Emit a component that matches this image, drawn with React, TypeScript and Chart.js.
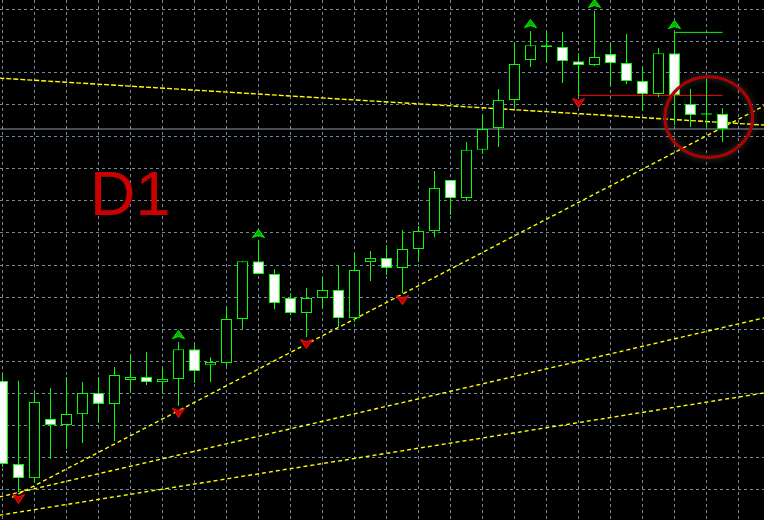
import { useEffect, useRef } from "react";
import { Chart, registerables } from "chart.js";

Chart.register(...registerables);

// Daily OHLC bars, oldest first
const opens = [
  133.8, 107.8, 103.4, 121.9, 120.0, 123.4, 130.0, 126.6, 134.1, 135.0,
  133.4, 134.4, 143.7, 138.7, 139.4, 153.1, 171.2, 167.2, 159.7, 155.0,
  159.7, 162.2, 153.4, 170.9, 172.2, 169.1, 175.0, 180.6, 196.6, 190.9,
  206.0, 212.8, 221.6, 234.1, 238.7, 238.1, 233.7, 232.5, 235.9, 233.1,
  227.5, 223.4, 236.2, 220.3, 217.2, 217.2,
];
const highs = [
  136.2, 133.8, 130.0, 131.6, 135.0, 133.4, 135.0, 138.1, 141.9, 142.8,
  138.1, 145.9, 145.0, 141.2, 156.9, 171.2, 177.5, 168.7, 161.2, 162.8,
  166.2, 170.0, 173.7, 174.4, 176.2, 180.9, 182.2, 199.4, 196.6, 208.4,
  216.9, 225.0, 239.7, 243.1, 242.8, 242.8, 236.2, 249.4, 239.4, 242.2,
  231.9, 237.8, 242.8, 225.0, 228.1, 219.1,
];
const lows = [
  106.9, 99.1, 101.9, 109.4, 112.5, 114.4, 120.6, 115.0, 130.0, 132.5,
  130.0, 126.0, 133.1, 133.4, 138.4, 150.0, 167.2, 156.2, 154.4, 147.5,
  156.6, 150.6, 152.2, 165.0, 166.9, 161.2, 170.9, 178.7, 185.6, 190.0,
  204.7, 206.9, 219.1, 231.9, 233.1, 226.9, 222.8, 232.2, 226.2, 226.6,
  218.1, 222.5, 213.7, 213.1, 213.1, 208.4,
];
const closes = [
  107.8, 103.4, 127.2, 120.0, 123.4, 130.0, 126.6, 135.6, 135.0, 133.4,
  134.4, 143.7, 136.9, 139.7, 153.1, 171.2, 167.2, 158.1, 155.0, 159.7,
  162.2, 153.4, 168.4, 172.2, 169.1, 175.0, 180.6, 194.1, 190.9, 206.0,
  212.5, 221.6, 232.8, 238.7, 238.1, 233.7, 232.5, 235.0, 233.1, 227.5,
  223.4, 236.2, 223.1, 216.9, 217.2, 212.5,
];

// Fractal markers (bar numbers)
const fractalUp = [11, 16, 33, 37, 42];
const fractalDown = [1, 11, 19, 25, 36];

// Trend lines: [bar, price, bar, price]
const topLine = [-0.2, 228.4, 47.7, 213.7];
const steepLine = [0.6, 97.4, 47.7, 220.0];
const midLine = [-0.2, 97.5, 47.7, 153.6];
const lowLine = [-0.2, 91.8, 47.7, 130.1];

// Horizontal levels: [fromBar, toBar, price]
const resistance = [42, 45, 242.7];
const support = [36, 45, 223.0];

// Highlight ring: centre [bar, price], radii [bars, price]
const ringCenter = [44.14, 216.2];
const ringRadius = [2.74, 12.6];

// Timeframe label anchor [bar, price]
const periodLabel = "D1";
const periodAnchor = [5.47, 185.6];

// Visible window
const X_MIN = -0.15625;
const X_MAX = 47.59375;
const Y_MIN = 90.3125;
const Y_MAX = 252.8125;

const GREEN = "#00ff00";
const GRID = "#778899";

function makeArrow(up: boolean, fill: string, edge: string, w: number, h: number, gap: number) {
  const c = document.createElement("canvas");
  const H = (gap + h) * 2;
  c.width = w;
  c.height = H;
  const g = c.getContext("2d")!;
  const mid = H / 2;
  g.beginPath();
  if (up) {
    const base = mid - gap;
    const tip = base - h;
    g.moveTo(w / 2, tip + 0.5);
    g.lineTo(w - 0.5, base - 0.5);
    g.lineTo(w / 2, base - h * 0.28);
    g.lineTo(0.5, base - 0.5);
  } else {
    const top = mid + gap;
    const tip = top + h;
    g.moveTo(w / 2, tip - 0.5);
    g.lineTo(w - 0.5, top + 0.5);
    g.lineTo(w / 2, top + h * 0.28);
    g.lineTo(0.5, top + 0.5);
  }
  g.closePath();
  g.fillStyle = fill;
  g.fill();
  g.strokeStyle = edge;
  g.lineWidth = 1;
  g.stroke();
  return c;
}

function segment(l: number[]) {
  return [
    { x: l[0], y: l[1] },
    { x: l[2], y: l[3] },
  ];
}

export default function App() {
  const ref = useRef<HTMLCanvasElement | null>(null);

  useEffect(() => {
    if (!ref.current) return;
    const idx = opens.map((_, i) => i);
    const bodyIdx = idx.filter((i) => opens[i] !== closes[i]);
    const dojiIdx = idx.filter((i) => opens[i] === closes[i]);
    const lastClose = closes[closes.length - 1];

    const upArrow = makeArrow(true, "#00b400", GREEN, 13, 9, 3);
    const downArrow = makeArrow(false, "#c00000", "#ff1010", 13, 10, 2);

    const overlay = {
      id: "overlay",
      beforeDraw(chart: any) {
        const { ctx, width, height } = chart;
        ctx.save();
        ctx.fillStyle = "#000000";
        ctx.fillRect(0, 0, width, height);
        ctx.restore();
      },
      beforeDatasetsDraw(chart: any) {
        const { ctx, scales } = chart;
        ctx.save();
        ctx.fillStyle = "#cc0000";
        ctx.font = '63px "Liberation Sans", Arial, sans-serif';
        ctx.textBaseline = "alphabetic";
        ctx.fillText(
          periodLabel,
          scales.x.getPixelForValue(periodAnchor[0]),
          scales.y.getPixelForValue(periodAnchor[1])
        );
        ctx.restore();
      },
      afterDatasetsDraw(chart: any) {
        const { ctx, scales } = chart;
        const cx = scales.x.getPixelForValue(ringCenter[0]);
        const cy = scales.y.getPixelForValue(ringCenter[1]);
        const rx = scales.x.getPixelForValue(ringCenter[0] + ringRadius[0]) - cx;
        const ry = cy - scales.y.getPixelForValue(ringCenter[1] + ringRadius[1]);
        ctx.save();
        ctx.shadowColor = "rgba(120,120,120,0.55)";
        ctx.shadowBlur = 7;
        ctx.strokeStyle = "#b00000";
        ctx.lineWidth = 3;
        ctx.beginPath();
        ctx.ellipse(cx, cy, rx, ry, 0, 0, Math.PI * 2);
        ctx.stroke();
        ctx.restore();
      },
    };

    const trend = (l: number[], dash: number[]) => ({
      type: "line" as const,
      data: segment(l),
      borderColor: "#ffff00",
      borderWidth: 1.4,
      borderDash: dash,
      pointRadius: 0,
      fill: false,
      order: 20,
    });

    const chart = new Chart(ref.current, {
      type: "bar",
      data: {
        datasets: [
          trend(topLine, [5, 2]),
          trend(steepLine, [4, 3]),
          trend(midLine, [4, 3]),
          trend(lowLine, [4, 3]),
          {
            type: "line",
            data: [
              { x: -1, y: lastClose },
              { x: 49, y: lastClose },
            ],
            borderColor: "#8a98a8",
            borderWidth: 1,
            pointRadius: 0,
            order: 19,
          },
          {
            type: "line",
            data: [
              { x: resistance[0], y: resistance[2] },
              { x: resistance[1], y: resistance[2] },
            ],
            borderColor: GREEN,
            borderWidth: 1,
            pointRadius: 0,
            order: 18,
          },
          {
            type: "line",
            data: [
              { x: support[0], y: support[2] },
              { x: support[1], y: support[2] },
            ],
            borderColor: "#ff0000",
            borderWidth: 1,
            pointRadius: 0,
            order: 18,
          },
          {
            type: "bar",
            data: idx.map((i) => ({ x: i, y: [lows[i], highs[i]] })),
            backgroundColor: GREEN,
            borderWidth: 0,
            grouped: false,
            barPercentage: 1,
            categoryPercentage: 1,
            maxBarThickness: 1,
            inflateAmount: 0,
            order: 10,
          },
          {
            type: "bar",
            data: bodyIdx.map((i) => ({ x: i, y: [opens[i], closes[i]] })),
            backgroundColor: bodyIdx.map((i) => (closes[i] > opens[i] ? "#000000" : "#ffffff")),
            borderColor: GREEN,
            borderWidth: 1,
            borderSkipped: false,
            grouped: false,
            barPercentage: 1,
            categoryPercentage: 1,
            maxBarThickness: 11,
            inflateAmount: 0,
            order: 9,
          },
          {
            type: "scatter",
            data: dojiIdx.map((i) => ({ x: i, y: opens[i] })),
            pointStyle: "line",
            pointRadius: 5.5,
            borderColor: GREEN,
            borderWidth: 1,
            order: 8,
          },
          {
            type: "scatter",
            data: fractalUp.map((i) => ({ x: i, y: highs[i] })),
            pointStyle: upArrow,
            pointRadius: 6,
            order: 2,
          },
          {
            type: "scatter",
            data: fractalDown.map((i) => ({ x: i, y: lows[i] })),
            pointStyle: downArrow,
            pointRadius: 6,
            order: 2,
          },
        ] as any,
      },
      options: {
        responsive: false,
        animation: false,
        events: [],
        layout: { padding: 0, autoPadding: false },
        plugins: {
          legend: { display: false },
          tooltip: { enabled: false },
        },
        scales: {
          x: {
            type: "linear",
            min: X_MIN,
            max: X_MAX,
            offset: false,
            grid: { color: GRID, lineWidth: 1, drawTicks: false, offset: false },
            border: { display: false, dash: [3, 3] },
            ticks: { display: false, stepSize: 2, includeBounds: false },
          },
          y: {
            type: "linear",
            min: Y_MIN,
            max: Y_MAX,
            beginAtZero: false,
            grid: { color: GRID, lineWidth: 1, drawTicks: false },
            border: { display: false, dash: [3, 3] },
            ticks: { display: false, stepSize: 10, includeBounds: false },
          },
        },
      } as any,
      plugins: [overlay],
    });

    return () => chart.destroy();
  }, []);

  return (
    <div style={{ position: "fixed", left: 0, top: 0, width: 764, height: 520, background: "#000" }}>
      <canvas ref={ref} width={764} height={520} style={{ display: "block" }} />
    </div>
  );
}
